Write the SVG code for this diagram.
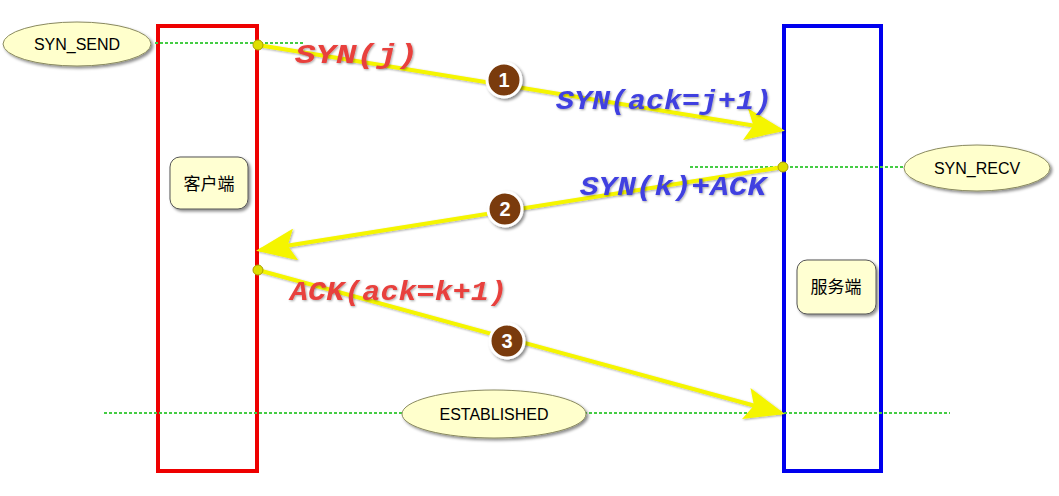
<svg xmlns="http://www.w3.org/2000/svg" width="1059" height="496" viewBox="0 0 1059 496">
<style>
.ell{fill:#ffffcc;stroke:#8a8a60;stroke-width:1;filter:url(#sh)}
.box{fill:#ffffd2;stroke:#555;stroke-width:1;filter:url(#sh)}
.lbl{font-family:"Liberation Sans",Arial,sans-serif;font-size:16px;fill:#000;text-anchor:middle}
.cjk{font-family:"Noto Sans CJK SC","Liberation Sans",sans-serif;font-size:17px;fill:#000;text-anchor:middle}
.dot{stroke:#44cc44;stroke-width:2;stroke-dasharray:3 2;fill:none}
.arr{stroke:#f5f500;stroke-width:4;fill:none;marker-end:url(#ah);filter:url(#sh2)}
.msg{font-family:"Liberation Mono","Courier New",monospace;font-size:28px;font-weight:bold;font-style:italic;filter:url(#sh2)}
.num{fill:#7a3b0c;stroke:#fff;stroke-width:3;filter:url(#sh)}
.numt{font-family:"Liberation Sans",Arial,sans-serif;font-size:20px;font-weight:bold;fill:#fff;text-anchor:middle}
</style>
<defs>
<filter id="sh" x="-20%" y="-20%" width="150%" height="150%"><feDropShadow dx="2" dy="2" stdDeviation="1.5" flood-color="#000" flood-opacity="0.45"/></filter>
<filter id="sh2" x="-10%" y="-30%" width="120%" height="160%"><feDropShadow dx="1" dy="1" stdDeviation="1" flood-color="#000" flood-opacity="0.35"/></filter>
<marker id="ah" markerWidth="10" markerHeight="8" refX="9" refY="4" orient="auto" markerUnits="strokeWidth"><path d="M0,0 L10,4 L0,8 L2,4 Z" fill="#f5f500"/></marker>
</defs>
<g id="client"><rect x="158" y="26" width="99" height="445" fill="none" stroke="#ee0000" stroke-width="4"/></g>
<g id="server"><rect x="784" y="26" width="97" height="445" fill="none" stroke="#0000ee" stroke-width="4"/></g>
<g id="connectors">
<line class="dot" x1="155" y1="43" x2="305" y2="43"/>
<line class="dot" x1="690" y1="167" x2="903" y2="167"/>
<line class="dot" x1="104" y1="413" x2="950" y2="413"/>
<line class="arr" x1="258" y1="45" x2="781" y2="130"/>
<line class="arr" x1="783" y1="167" x2="260" y2="250"/>
<line class="arr" x1="258" y1="270" x2="781" y2="413"/>
<circle cx="258" cy="45" r="5" fill="#dede00" stroke="#aaa000" stroke-width="1"/>
<circle cx="783" cy="167" r="5" fill="#dede00" stroke="#aaa000" stroke-width="1"/>
<circle cx="258" cy="270" r="5" fill="#dede00" stroke="#aaa000" stroke-width="1"/>
</g>
<g id="syn_send"><ellipse class="ell" cx="77" cy="44" rx="74" ry="22"/><text class="lbl" x="77" y="50">SYN_SEND</text></g>
<g id="syn_recv"><ellipse class="ell" cx="977" cy="168" rx="73" ry="23"/><text class="lbl" x="977" y="174">SYN_RECV</text></g>
<g id="established"><ellipse class="ell" cx="494" cy="414" rx="92" ry="24"/><text class="lbl" x="494" y="420">ESTABLISHED</text></g>
<g id="client_label"><rect class="box" x="170" y="157" width="78" height="52" rx="10"/><text class="cjk" x="209" y="190">客户端</text></g>
<g id="server_label"><rect class="box" x="797" y="260" width="79" height="54" rx="10"/><text class="cjk" x="836" y="293">服务端</text></g>
<g id="labels">
<text class="msg" x="295" y="63" fill="#e8403c" textLength="123" lengthAdjust="spacingAndGlyphs">SYN(j)</text>
<text class="msg" x="556" y="109" fill="#4040e0" textLength="216" lengthAdjust="spacingAndGlyphs">SYN(ack=j+1)</text>
<text class="msg" x="580" y="195" fill="#4040e0" textLength="186" lengthAdjust="spacingAndGlyphs">SYN(k)+ACK</text>
<text class="msg" x="290" y="300" fill="#e8403c" textLength="217" lengthAdjust="spacingAndGlyphs">ACK(ack=k+1)</text>
</g>
<g id="steps">
<circle class="num" cx="504" cy="80" r="17"/><text class="numt" x="504" y="87">1</text>
<circle class="num" cx="505" cy="209" r="17"/><text class="numt" x="505" y="216">2</text>
<circle class="num" cx="507" cy="341" r="17"/><text class="numt" x="507" y="348">3</text>
</g>
</svg>
